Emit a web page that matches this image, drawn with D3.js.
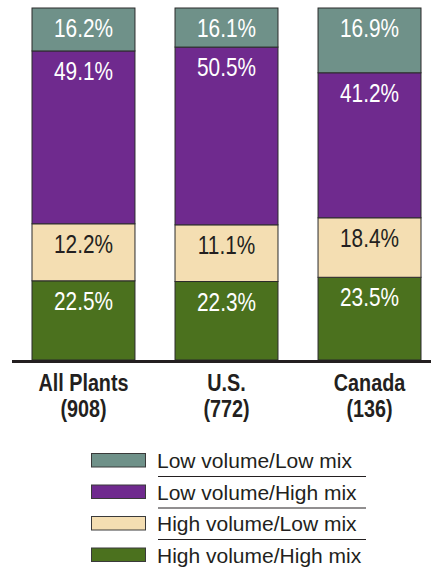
<!DOCTYPE html>
<html>
<head>
<meta charset="utf-8">
<script src="https://cdn.jsdelivr.net/npm/d3@7"></script>
<style>
  html, body { margin: 0; padding: 0; background: #fff; }
  svg { display: block; }
  text { font-family: "Liberation Sans", Arial, Helvetica, sans-serif; }
</style>
</head>
<body>
<svg id="chart" width="431" height="567"></svg>
<script>
// ---- data ----
const categories = ["All Plants", "U.S.", "Canada"];
const plantCounts = ["(908)", "(772)", "(136)"];
const lowVolLowMix   = [16.2, 16.1, 16.9];
const lowVolHighMix  = [49.1, 50.5, 41.2];
const highVolLowMix  = [12.2, 11.1, 18.4];
const highVolHighMix = [22.5, 22.3, 23.5];
const legendLabels = ["Low volume/Low mix", "Low volume/High mix", "High volume/Low mix", "High volume/High mix"];

const colors = {
  lvlm: "#6f9189",
  lvhm: "#6f2a8e",
  hvlm: "#f4deb2",
  hvhm: "#4b711e"
};

const rows = categories.map((c, i) => ({
  cat: c,
  lvlm: lowVolLowMix[i],
  lvhm: lowVolHighMix[i],
  hvlm: highVolLowMix[i],
  hvhm: highVolHighMix[i]
}));

// Segments bottom -> top. As drawn in the source picture, the tan and grey
// segment heights follow each other's values while labels show their own.
const layers = [
  { heightKey: "hvhm", labelKey: "hvhm", fill: colors.hvhm, text: "#ffffff" },
  { heightKey: "lvlm", labelKey: "hvlm", fill: colors.hvlm, text: "#231f20" },
  { heightKey: "lvhm", labelKey: "lvhm", fill: colors.lvhm, text: "#ffffff" },
  { heightKey: "hvlm", labelKey: "lvlm", fill: colors.lvlm, text: "#ffffff" }
];

const svg = d3.select("#chart");

// condensed text helper (horizontal squeeze around anchor)
function condText(parent, cx, cy, str, size, weight, sx, fill) {
  return parent.append("text")
    .attr("transform", `translate(${cx},${cy}) scale(${sx},1)`)
    .attr("text-anchor", "middle")
    .attr("font-size", size)
    .attr("font-weight", weight)
    .attr("fill", fill)
    .text(str);
}

const x = d3.scaleBand().domain(categories).range([32, 421]).paddingInner(0.28).paddingOuter(0);
const y = d3.scaleLinear().domain([0, 100]).range([360, 8]);

const stack = d3.stack().keys(layers.map(l => l.heightKey));
const series = stack(rows);

const g = svg.append("g");
series.forEach((s, li) => {
  const layer = layers[li];
  const lg = g.append("g");
  lg.selectAll("rect").data(s).enter().append("rect")
    .attr("x", d => x(d.data.cat))
    .attr("y", d => y(d[1]))
    .attr("width", x.bandwidth())
    .attr("height", d => y(d[0]) - y(d[1]))
    .attr("fill", layer.fill)
    .attr("stroke", "#2b2b2b")
    .attr("stroke-width", 1);
  s.forEach(d => {
    condText(lg, x(d.data.cat) + x.bandwidth() / 2, y(d[1]) + 29,
      d.data[layer.labelKey].toFixed(1) + "%", 26, "normal", 0.8, layer.text);
  });
});

// baseline
svg.append("line")
  .attr("x1", 12).attr("x2", 431)
  .attr("y1", y(0) + 1.5).attr("y2", y(0) + 1.5)
  .attr("stroke", "#231f20").attr("stroke-width", 3);

// category labels
const catG = svg.append("g");
categories.forEach((c, i) => {
  const cx = x(c) + x.bandwidth() / 2;
  condText(catG, cx, 391, c, 23, "bold", 0.86, "#231f20");
  condText(catG, cx, 417, plantCounts[i], 23, "bold", 0.86, "#231f20");
});

// legend
const legendColors = [colors.lvlm, colors.lvhm, colors.hvlm, colors.hvhm];
const leg = svg.append("g");
legendLabels.forEach((lab, i) => {
  const top = 453 + i * 31.5;
  leg.append("rect")
    .attr("x", 91.5).attr("y", top + 0.5)
    .attr("width", 54).attr("height", 13.5)
    .attr("fill", legendColors[i])
    .attr("stroke", "#3a3a3a").attr("stroke-width", 1);
  leg.append("text")
    .attr("x", 157).attr("y", top + 15)
    .attr("font-size", 21).attr("fill", "#231f20")
    .text(lab);
  if (i < legendLabels.length - 1) {
    leg.append("line")
      .attr("x1", 158).attr("x2", 366)
      .attr("y1", top + 23.5).attr("y2", top + 23.5)
      .attr("stroke", "#231f20").attr("stroke-width", 1);
  }
});
</script>
</body>
</html>
